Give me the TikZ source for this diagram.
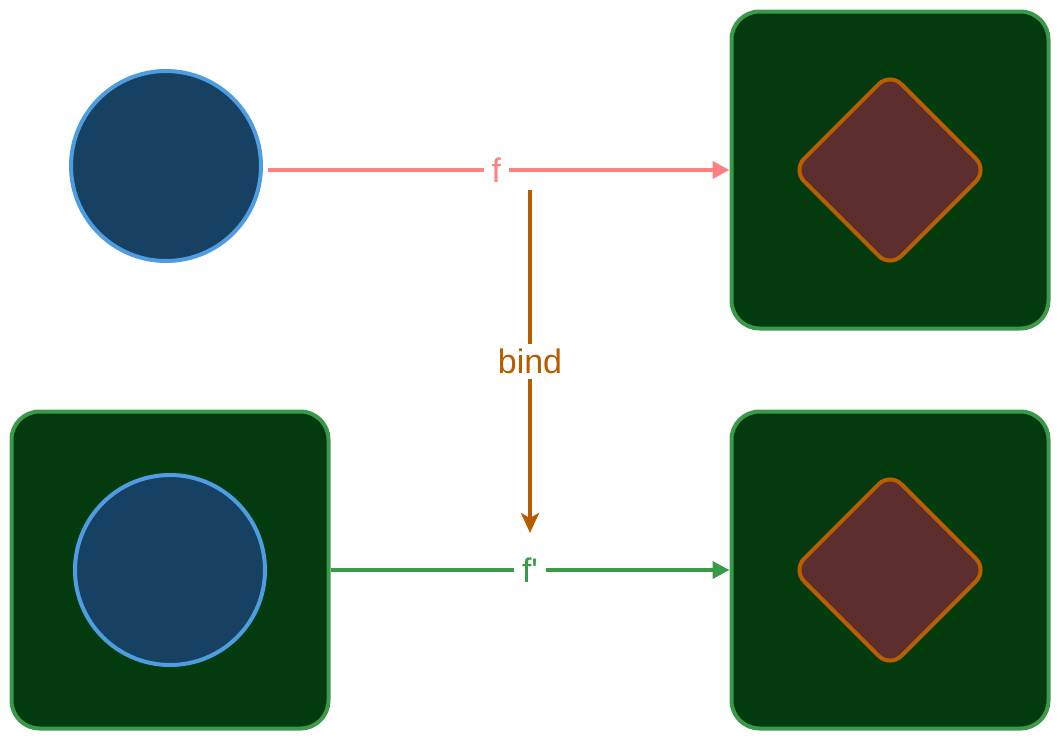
\documentclass[tikz,border=0pt]{standalone}
\usepackage{fontspec}
\setmainfont{Liberation Sans}
\newfontfamily\labfont{Liberation Sans}
\usetikzlibrary{arrows.meta,shapes.geometric}
\definecolor{cfill}{HTML}{174162}
\definecolor{cline}{HTML}{4E9DE0}
\definecolor{bfill}{HTML}{033B0E}
\definecolor{bline}{HTML}{3A9A4A}
\definecolor{dfill}{HTML}{5C2E2E}
\definecolor{dline}{HTML}{B86000}
\definecolor{pinkc}{HTML}{FF8080}
\definecolor{bindc}{HTML}{B85C00}
\tikzset{
  ball/.style={circle,draw=cline,fill=cfill,line width=4pt,minimum size=190pt,inner sep=0pt},
  boxy/.style={rectangle,draw=bline,fill=bfill,line width=4pt,minimum size=317pt,rounded corners=28pt,inner sep=0pt},
  gem/.style={diamond,aspect=1,draw=dline,fill=dfill,line width=4pt,minimum size=196pt,rounded corners=16pt,inner sep=0pt},
  lab/.style={fill=white,inner xsep=8pt,inner ysep=5pt,font=\labfont\fontsize{34}{40}\selectfont},
  arr/.style={line width=4pt,-{Triangle[length=17pt,width=17pt]}},
}
\begin{document}
\begin{tikzpicture}[x=1pt,y=-1pt]
\useasboundingbox (0,0) rectangle (1060,740);
\node[ball] (c1) at (166,166) {};
\node[boxy] (b1) at (890,170) {};
\node[gem] (d1) at (890,170) {};
\node[boxy] (b3) at (170,570) {};
\node[ball] (c3) at (170,570) {};
\node[boxy] (b4) at (890,570) {};
\node[gem] (d4) at (890,570) {};
\coordinate (bs) at (530,190);
\coordinate (be) at (530,533);
\draw[arr,draw=pinkc,fill=pinkc,shorten <=5pt] (c1.east |- b1.west) -- (b1.west)
  node[lab,text=pinkc,pos=0.5] (lf) {f};
\draw[line width=4pt,draw=bindc,-{Stealth[length=20pt,width=18pt,inset=5pt]}] (bs) -- (be)
  node[lab,text=bindc,pos=0.5] (lb) {bind};
\draw[arr,draw=bline,fill=bline] (b3.east) -- (b4.west)
  node[lab,text=bline,pos=0.5] (lf2) {f'};
\end{tikzpicture}
\end{document}
